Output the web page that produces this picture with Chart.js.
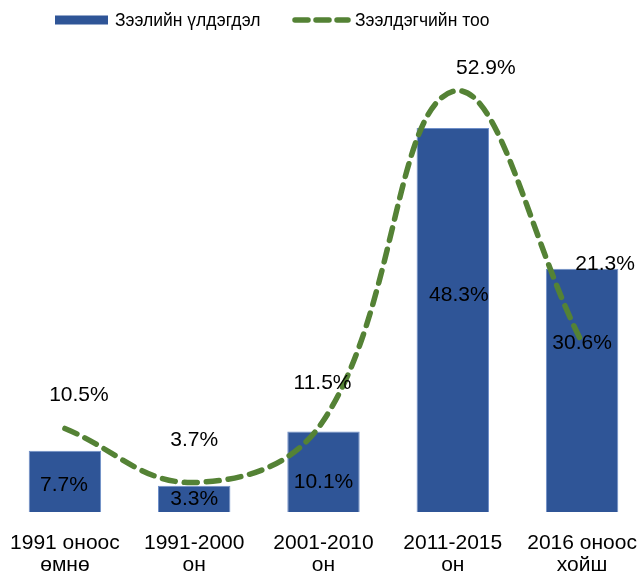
<!DOCTYPE html>
<html>
<head>
<meta charset="utf-8">
<title>Зээлийн үлдэгдэл ба зээлдэгчийн тоо</title>
<script src="https://cdn.jsdelivr.net/npm/chart.js@4/dist/chart.umd.min.js"></script>
<style>
    html, body { margin: 0; padding: 0; background: #fff; overflow: hidden; }
    #wrap { position: relative; width: 641px; height: 577px; overflow: hidden; }
    #loan-chart { position: absolute; left: -9px; top: 0; }
</style>
</head>
<body>
<div id="wrap"><canvas id="loan-chart" width="665" height="597"></canvas></div>
<script>
const periods = [
    ['1991 оноос', 'өмнө'],
    ['1991-2000', 'он'],
    ['2001-2010', 'он'],
    ['2011-2015', 'он'],
    ['2016 оноос', 'хойш']
];
const loanBalance = [7.7, 3.3, 10.1, 48.3, 30.6];
const borrowers = [10.5, 3.7, 11.5, 52.9, 21.3];
const seriesNames = ['Зээлийн үлдэгдэл', 'Зээлдэгчийн тоо'];

const FONT = '"Liberation Sans", Arial, sans-serif';
const BLUE = '#2f5597';
const GREEN = '#548235';
const SHIFT = 9; // canvas sits 9px left of the page edge

// nudges for the value labels, the way they were dragged around in the original
const barNudge = [[-1, 4], [0, 0], [0, 10], [6, -25], [0, -47]];
const lineNudge = [[14, -33], [0, -42], [-1, -37], [33, -23], [23, -78]];

const valueLabels = {
    id: 'valueLabels',
    afterDatasetsDraw(chart) {
        const ctx = chart.ctx;
        ctx.save();
        ctx.font = '21px ' + FONT;
        ctx.fillStyle = '#000';
        ctx.textAlign = 'center';
        ctx.textBaseline = 'middle';
        chart.getDatasetMeta(0).data.forEach((bar, i) => {
            const y = (bar.y + bar.base) / 2;
            ctx.fillText(loanBalance[i].toFixed(1) + '%', bar.x + barNudge[i][0], y + barNudge[i][1]);
        });
        chart.getDatasetMeta(1).data.forEach((pt, i) => {
            ctx.fillText(borrowers[i].toFixed(1) + '%', pt.x + lineNudge[i][0], pt.y + lineNudge[i][1]);
        });
        ctx.restore();
    }
};

// legend row at the top, left of centre
const legendRow = {
    id: 'legendRow',
    afterDraw(chart) {
        const ctx = chart.ctx;
        const y = 20;
        ctx.save();
        ctx.translate(SHIFT, 0);
        ctx.font = '17.5px ' + FONT;
        ctx.textBaseline = 'middle';
        ctx.fillStyle = BLUE;
        ctx.fillRect(55, y - 4.5, 53, 9);
        ctx.fillStyle = '#000';
        ctx.fillText(seriesNames[0], 115, y + 1);

        ctx.strokeStyle = GREEN;
        ctx.lineWidth = 5.5;
        ctx.lineCap = 'round';
        ctx.setLineDash([13, 8]);
        ctx.beginPath();
        ctx.moveTo(295, y);
        ctx.lineTo(348, y);
        ctx.stroke();
        ctx.fillText(seriesNames[1], 355, y + 1);
        ctx.restore();
    }
};

const ctx = document.getElementById('loan-chart').getContext('2d');
new Chart(ctx, {
    type: 'bar',
    data: {
        labels: periods,
        datasets: [{
            type: 'bar',
            label: seriesNames[0],
            data: loanBalance,
            backgroundColor: BLUE,
            borderColor: '#6f8fc8',
            borderWidth: 1,
            barPercentage: 1,
            categoryPercentage: 0.56,
            order: 2
        }, {
            type: 'line',
            label: seriesNames[1],
            data: borrowers,
            borderColor: GREEN,
            borderWidth: 5.5,
            borderDash: [13, 9],
            borderCapStyle: 'round',
            tension: 0.4,
            pointRadius: 0,
            fill: false,
            order: 1
        }]
    },
    options: {
        responsive: false,
        animation: false,
        layout: { padding: { top: 35, bottom: 1, left: 0, right: 0 } },
        plugins: {
            legend: { display: false },
            tooltip: { enabled: false }
        },
        scales: {
            x: {
                grid: { display: false, drawTicks: false },
                border: { display: false },
                ticks: {
                    color: '#000',
                    padding: 20,
                    font: { family: FONT, size: 21, lineHeight: 1.05 }
                }
            },
            y: {
                display: false,
                min: 0,
                max: 60
            }
        }
    },
    plugins: [valueLabels, legendRow]
});
</script>
</body>
</html>
